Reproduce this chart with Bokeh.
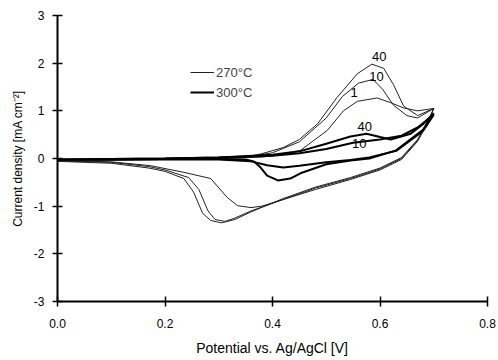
from bokeh.plotting import figure
from bokeh.models import Legend, LegendItem, FixedTicker, Range1d
from bokeh.embed import file_html
from bokeh.resources import INLINE

# ---- data (potential V vs Ag/AgCl, current density mA cm^-2) ----
# 270 °C, cycle 40
v270_40 = [0.0, 0.1, 0.2, 0.3, 0.35, 0.38, 0.42, 0.45, 0.484, 0.52, 0.558, 0.585, 0.607, 0.625, 0.644, 0.67, 0.70,
           0.69, 0.67, 0.64, 0.60, 0.545, 0.48, 0.42, 0.36, 0.33, 0.305, 0.285, 0.27, 0.253, 0.235, 0.2, 0.17, 0.1, 0.0]
j270_40 = [-0.04, -0.03, -0.02, 0.0, 0.03, 0.1, 0.23, 0.4, 0.73, 1.28, 1.78, 1.98, 1.89, 1.55, 1.1, 0.9, 1.05,
           0.8, 0.4, 0.02, -0.2, -0.4, -0.6, -0.84, -1.12, -1.28, -1.35, -1.3, -1.15, -0.7, -0.42, -0.27, -0.2, -0.1, -0.06]
# 270 °C, cycle 10
v270_10 = [0.0, 0.2, 0.3, 0.35, 0.4, 0.45, 0.5, 0.53, 0.56, 0.587, 0.605, 0.625, 0.65, 0.67, 0.70,
           0.69, 0.67, 0.64, 0.60, 0.545, 0.48, 0.42, 0.36, 0.33, 0.312, 0.293, 0.28, 0.263, 0.244, 0.2, 0.17, 0.1, 0.0]
j270_10 = [-0.04, -0.02, 0.0, 0.03, 0.12, 0.35, 0.85, 1.3, 1.58, 1.66, 1.45, 1.12, 0.9, 0.85, 1.05,
           0.8, 0.38, 0.0, -0.22, -0.42, -0.62, -0.86, -1.1, -1.25, -1.32, -1.28, -1.1, -0.65, -0.4, -0.24, -0.17, -0.08, -0.05]
# 270 °C, cycle 1
v270_1 = [0.0, 0.2, 0.3, 0.38, 0.42, 0.452, 0.502, 0.532, 0.558, 0.595, 0.62, 0.644, 0.67, 0.70,
          0.69, 0.67, 0.64, 0.60, 0.545, 0.48, 0.42, 0.38, 0.36, 0.335, 0.316, 0.285, 0.235, 0.173, 0.1, 0.0]
j270_1 = [-0.04, -0.02, 0.0, 0.03, 0.08, 0.17, 0.59, 1.0, 1.2, 1.27, 1.17, 1.06, 1.0, 1.05,
          0.78, 0.36, -0.02, -0.24, -0.44, -0.65, -0.86, -1.0, -1.03, -0.99, -0.82, -0.42, -0.29, -0.15, -0.07, -0.04]
# 300 °C, cycle 40
v300_40 = [0.0, 0.2, 0.3, 0.4, 0.45, 0.5, 0.545, 0.575, 0.60, 0.62, 0.657, 0.68, 0.70,
           0.68, 0.63, 0.58, 0.545, 0.5, 0.452, 0.433, 0.41, 0.39, 0.378, 0.365, 0.35, 0.3, 0.2, 0.0]
j300_40 = [-0.02, 0.0, 0.02, 0.08, 0.15, 0.31, 0.46, 0.52, 0.45, 0.4, 0.52, 0.72, 0.95,
           0.6, 0.17, 0.0, -0.04, -0.12, -0.31, -0.42, -0.46, -0.36, -0.19, -0.06, -0.02, -0.01, -0.01, -0.02]
# 300 °C, cycle 10
v300_10 = [0.0, 0.2, 0.3, 0.4, 0.45, 0.5, 0.55, 0.6, 0.64, 0.67, 0.70,
           0.68, 0.63, 0.58, 0.545, 0.5, 0.45, 0.42, 0.39, 0.36, 0.3, 0.0]
j300_10 = [-0.02, 0.0, 0.02, 0.06, 0.11, 0.2, 0.33, 0.4, 0.48, 0.65, 0.92,
           0.58, 0.16, 0.02, -0.03, -0.08, -0.15, -0.19, -0.14, -0.06, -0.02, -0.02]

# cycle labels (text, potential, current)
lab_text = ["40", "10", "1", "40", "10"]
lab_v = [0.585, 0.58, 0.545, 0.558, 0.548]
lab_j = [2.05, 1.62, 1.28, 0.57, 0.23]

x_ticks = [0.0, 0.2, 0.4, 0.6, 0.8]
y_ticks = [-3, -2, -1, 0, 1, 2, 3]

FONT = "Liberation Sans"

p = figure(width=498, height=360, output_backend="svg", toolbar_location=None,
           x_range=Range1d(0, 0.8), y_range=Range1d(-3, 3),
           min_border_left=57, min_border_right=11, min_border_top=15, min_border_bottom=59)
p.outline_line_color = None
p.grid.visible = False
p.background_fill_color = "white"
p.border_fill_color = "white"

c40 = p.line(v270_40, j270_40, line_color="#222222", line_width=1.0)
c10 = p.line(v270_10, j270_10, line_color="#222222", line_width=1.0)
c1 = p.line(v270_1, j270_1, line_color="#222222", line_width=1.0)
d40 = p.line(v300_40, j300_40, line_color="black", line_width=2.0)
d10 = p.line(v300_10, j300_10, line_color="black", line_width=2.0)

p.text(lab_v, lab_j, text=lab_text, text_font_size="13px", text_align="left",
       text_baseline="bottom", text_color="black", text_font={"value": FONT})

# axes
for ax in (p.xaxis[0], p.yaxis[0]):
    ax.axis_line_width = 2
    ax.axis_line_color = "black"
    ax.major_tick_in = 5
    ax.major_tick_out = 5
    ax.major_tick_line_width = 1.5
    ax.minor_tick_line_color = None
    ax.major_label_text_font = FONT
    ax.major_label_text_font_size = "12px"
    ax.major_label_text_color = "black"
    ax.axis_label_text_font = FONT
    ax.axis_label_text_font_style = "normal"
    ax.axis_label_text_color = "black"

p.xaxis.axis_label_text_font_size = "14px"
p.yaxis.axis_label_text_font_size = "12px"
p.xaxis.ticker = FixedTicker(ticks=x_ticks)
p.yaxis.ticker = FixedTicker(ticks=y_ticks)
p.xaxis.major_label_overrides = {t: f"{t:.1f}" for t in x_ticks}
p.yaxis.major_label_overrides = {t: str(t) for t in y_ticks}
p.xaxis.axis_label = "Potential vs. Ag/AgCl [V]"
p.yaxis.axis_label = "Current density [mA cm\u207b\u00b2]"
p.xaxis.major_label_standoff = 12
p.yaxis.major_label_standoff = 8
p.xaxis.axis_label_standoff = 9
p.yaxis.axis_label_standoff = 6

legend = Legend(items=[LegendItem(label="270\u00b0C", renderers=[c40]),
                       LegendItem(label="300\u00b0C", renderers=[d40])],
                location=(133, 200), border_line_color=None, background_fill_alpha=0,
                padding=0, margin=0, spacing=2, glyph_width=24, glyph_height=18,
                label_height=18, label_standoff=2,
                label_text_font=FONT, label_text_font_size="13px")
p.add_layout(legend)

open("out.html", "w").write(file_html(p, INLINE))
